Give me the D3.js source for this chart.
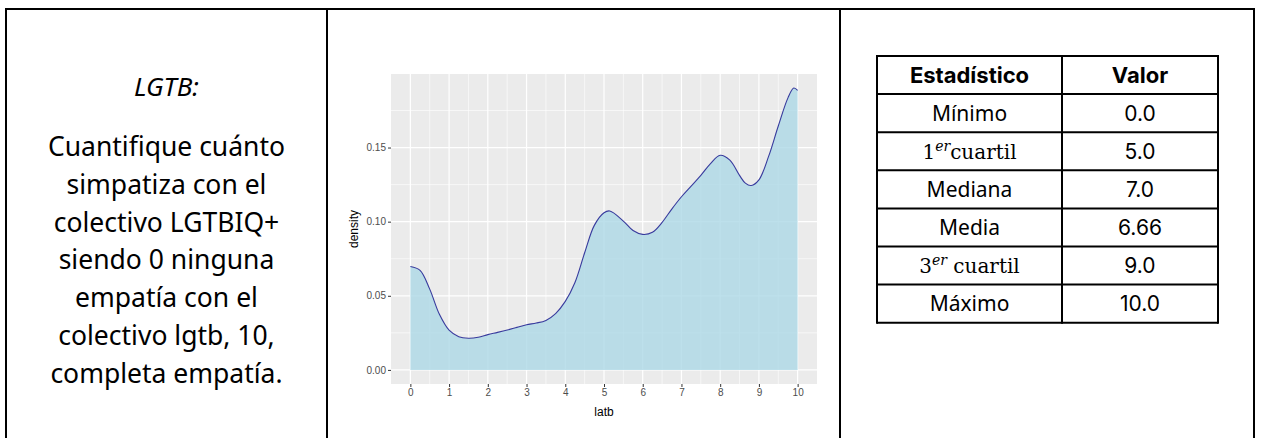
<!DOCTYPE html>
<html>
<head>
<meta charset="utf-8">
<script src="https://cdn.jsdelivr.net/npm/d3@7"></script>
<style>
  html, body { margin: 0; padding: 0; background: #fff; }
  svg { display: block; }
</style>
</head>
<body>
<svg id="root" width="1261" height="438"></svg>
<script>
// ---------- data ----------
const questionTitle = "LGTB:";
const questionLines = [
  "Cuantifique cuánto",
  "simpatiza con el",
  "colectivo LGTBIQ+",
  "siendo 0 ninguna",
  "empatía con el",
  "colectivo lgtb, 10,",
  "completa empatía."
];

const densityX = [0, 0.25, 0.5, 0.75, 1.0, 1.25, 1.5, 1.75, 2.0, 2.25, 2.5, 2.75, 3.0, 3.25, 3.5, 3.75,
  4.0, 4.25, 4.5, 4.75, 5.0, 5.15, 5.5, 5.75, 6.0, 6.25, 6.5, 6.75, 7.0, 7.25, 7.5, 7.75,
  8.0, 8.25, 8.5, 8.65, 8.8, 9.0, 9.25, 9.5, 9.75, 9.9, 10.0];
const densityY = [0.0698, 0.0672, 0.0545, 0.0375, 0.0268, 0.0224, 0.0214, 0.0220, 0.0238, 0.0253, 0.0269, 0.0287, 0.0305, 0.0316, 0.0334, 0.0380,
  0.0462, 0.0590, 0.0790, 0.0975, 0.1060, 0.1072, 0.1004, 0.0940, 0.0914, 0.0928, 0.0995, 0.1085, 0.1168, 0.1240, 0.1312, 0.1392,
  0.1448, 0.1415, 0.1312, 0.1260, 0.1244, 0.1282, 0.1440, 0.1645, 0.1835, 0.1901, 0.1885];

const xTicks = [0, 1, 2, 3, 4, 5, 6, 7, 8, 9, 10];
const xMinor = [0.5, 1.5, 2.5, 3.5, 4.5, 5.5, 6.5, 7.5, 8.5, 9.5];
const yTicks = [0, 0.05, 0.10, 0.15];
const yMinor = [0.025, 0.075, 0.125, 0.175];
const xLabel = "latb";
const yLabel = "density";

const tableHeader = ["Estadístico", "Valor"];
const statNames = [
  {plain: "Mínimo"},
  {num: "1", sup: "er", rest: "cuartil"},
  {plain: "Mediana"},
  {plain: "Media"},
  {num: "3", sup: "er", rest: "\u00a0cuartil"},
  {plain: "Máximo"}
];
const statValues = ["0.0", "5.0", "7.0", "6.66", "9.0", "10.0"];

// ---------- layout ----------
const svg = d3.select("#root");
svg.append("rect").attr("width", 1261).attr("height", 438).attr("fill", "#fff");

const frame = {left: 6, top: 9, right: 1254, bottom: 445, cols: [327, 840]};
const fg = svg.append("g").attr("stroke", "#000").attr("stroke-width", 2).attr("fill", "none");
fg.append("path").attr("d", `M${frame.left},${frame.bottom}V${frame.top}H${frame.right}V${frame.bottom}`);
frame.cols.forEach(c => fg.append("line").attr("x1", c).attr("x2", c).attr("y1", frame.top).attr("y2", frame.bottom));

// ---------- left text ----------
const textFont = "'Noto Sans', 'Open Sans', sans-serif";
const cx = (frame.left + frame.cols[0]) / 2;
svg.append("text").attr("x", cx).attr("y", 96)
  .attr("text-anchor", "middle").attr("font-family", textFont).attr("font-style", "italic")
  .attr("font-size", 26).attr("fill", "#000").text(questionTitle);
svg.append("g").selectAll("text").data(questionLines).join("text")
  .attr("x", cx).attr("y", (d, i) => 156 + i * 37.8)
  .attr("text-anchor", "middle").attr("font-family", textFont)
  .attr("font-size", 26.5).attr("fill", "#000").text(d => d);

// ---------- density chart ----------
const panel = {left: 391, right: 817, top: 74, bottom: 384};
const yMax = d3.max(densityY);
const x = d3.scaleLinear().domain([-0.5, 10.5]).range([panel.left, panel.right]);
const y = d3.scaleLinear().domain([-yMax * 0.05, yMax * 1.05]).range([panel.bottom, panel.top]);

const chart = svg.append("g");
chart.append("rect").attr("x", panel.left).attr("y", panel.top)
  .attr("width", panel.right - panel.left).attr("height", panel.bottom - panel.top).attr("fill", "#ebebeb");

chart.append("g").selectAll("line").data(xMinor).join("line")
  .attr("x1", d => x(d)).attr("x2", d => x(d)).attr("y1", panel.top).attr("y2", panel.bottom)
  .attr("stroke", "#fff").attr("stroke-width", 0.6);
chart.append("g").selectAll("line").data(yMinor).join("line")
  .attr("y1", d => y(d)).attr("y2", d => y(d)).attr("x1", panel.left).attr("x2", panel.right)
  .attr("stroke", "#fff").attr("stroke-width", 0.6);
chart.append("g").selectAll("line").data(xTicks).join("line")
  .attr("x1", d => x(d)).attr("x2", d => x(d)).attr("y1", panel.top).attr("y2", panel.bottom)
  .attr("stroke", "#fff").attr("stroke-width", 1.2);
chart.append("g").selectAll("line").data(yTicks).join("line")
  .attr("y1", d => y(d)).attr("y2", d => y(d)).attr("x1", panel.left).attr("x2", panel.right)
  .attr("stroke", "#fff").attr("stroke-width", 1.2);

const pts = densityX.map((d, i) => [d, densityY[i]]);
const curve = d3.curveCatmullRom.alpha(0.5);
const area = d3.area().x(d => x(d[0])).y0(y(0)).y1(d => y(d[1])).curve(curve);
const line = d3.line().x(d => x(d[0])).y(d => y(d[1])).curve(curve);
chart.append("path").datum(pts).attr("d", area).attr("fill", "#add8e6").attr("fill-opacity", 0.8);
chart.append("path").datum(pts).attr("d", line).attr("fill", "none")
  .attr("stroke", "#1c1c8f").attr("stroke-opacity", 0.85).attr("stroke-width", 1.1);

const axisFont = "'Liberation Sans', Arial, sans-serif";
const xAxis = chart.append("g").attr("transform", `translate(0,${panel.bottom})`)
  .call(d3.axisBottom(x).tickValues(xTicks).tickSize(3).tickPadding(2).tickFormat(d3.format("d")));
const yAxis = chart.append("g").attr("transform", `translate(${panel.left},0)`)
  .call(d3.axisLeft(y).tickValues(yTicks).tickSize(3).tickPadding(2).tickFormat(d3.format(".2f")));
[xAxis, yAxis].forEach(a => {
  a.select(".domain").remove();
  a.selectAll(".tick line").attr("stroke", "#333").attr("stroke-width", 1);
  a.selectAll(".tick text").attr("fill", "#4d4d4d").attr("font-family", axisFont).attr("font-size", 10);
});

chart.append("text").attr("x", (x(0) + x(10)) / 2).attr("y", 416)
  .attr("text-anchor", "middle").attr("font-family", axisFont).attr("font-size", 12)
  .attr("fill", "#000").text(xLabel);
chart.append("text").attr("transform", `translate(358,${(panel.top + panel.bottom) / 2}) rotate(-90)`)
  .attr("text-anchor", "middle").attr("font-family", axisFont).attr("font-size", 12)
  .attr("fill", "#000").text(yLabel);

// ---------- stats table ----------
const tbl = {left: 877, mid: 1062, right: 1218, top: 56, rowH: 38.1};
const nRows = statNames.length + 1;
const tg = svg.append("g");
const rowYs = d3.range(nRows + 1).map(i => tbl.top + i * tbl.rowH);
tg.append("g").selectAll("line").data(rowYs).join("line")
  .attr("x1", tbl.left).attr("x2", tbl.right).attr("y1", d => d).attr("y2", d => d)
  .attr("stroke", "#000").attr("stroke-width", 2);
tg.append("g").selectAll("line").data([tbl.left, tbl.mid, tbl.right]).join("line")
  .attr("x1", d => d).attr("x2", d => d).attr("y1", rowYs[0] - 1).attr("y2", rowYs[nRows] + 1)
  .attr("stroke", "#000").attr("stroke-width", 2);

const c1 = (tbl.left + tbl.mid) / 2, c2 = (tbl.mid + tbl.right) / 2;
const tableFont = "Inter, 'Noto Sans', sans-serif";
tg.append("text").attr("x", c1).attr("y", tbl.top + 26.5).attr("text-anchor", "middle")
  .attr("font-family", tableFont).attr("font-weight", "bold").attr("font-size", 22)
  .attr("fill", "#000").text(tableHeader[0]);
tg.append("text").attr("x", c2).attr("y", tbl.top + 26.5).attr("text-anchor", "middle")
  .attr("font-family", tableFont).attr("font-weight", "bold").attr("font-size", 22)
  .attr("fill", "#000").text(tableHeader[1]);

statNames.forEach((s, i) => {
  const by = tbl.top + (i + 1) * tbl.rowH + 26.5;
  const t = tg.append("text").attr("x", c1).attr("y", by).attr("text-anchor", "middle").attr("fill", "#000");
  if (s.plain) {
    t.attr("font-family", "'Noto Sans', sans-serif").attr("font-size", 21).text(s.plain);
  } else {
    t.attr("font-family", "'DejaVu Serif', 'Liberation Serif', serif").attr("font-size", 20);
    t.append("tspan").text(s.num);
    t.append("tspan").attr("font-style", "italic").attr("font-size", 14).attr("dy", -8).text(s.sup);
    t.append("tspan").attr("dy", 8).text(s.rest);
  }
  tg.append("text").attr("x", c2).attr("y", by).attr("text-anchor", "middle")
    .attr("font-family", tableFont).attr("font-size", 21).attr("fill", "#000").text(statValues[i]);
});
</script>
</body>
</html>
